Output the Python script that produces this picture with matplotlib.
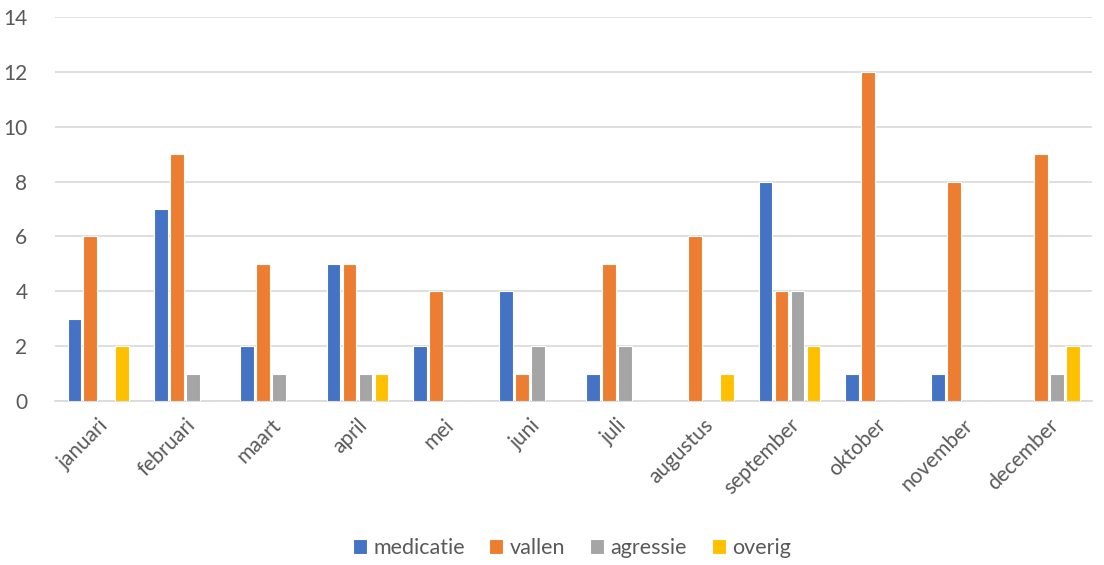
import numpy as np
import matplotlib
matplotlib.use('Agg')
import matplotlib.pyplot as plt

plt.rcParams['font.family'] = ['Lato', 'DejaVu Sans']

# Data
maanden = ['januari', 'februari', 'maart', 'april', 'mei', 'juni', 'juli',
           'augustus', 'september', 'oktober', 'november', 'december']
medicatie = [3, 7, 2, 5, 2, 4, 1, 0, 8, 1, 1, 0]
vallen = [6, 9, 5, 5, 4, 1, 5, 6, 4, 12, 8, 9]
agressie = [0, 1, 1, 1, 0, 2, 2, 0, 4, 0, 0, 1]
overig = [2, 0, 0, 1, 0, 0, 0, 1, 2, 0, 0, 2]

series = [('medicatie', medicatie, '#4472C4'),
          ('vallen', vallen, '#ED7D31'),
          ('agressie', agressie, '#A5A5A5'),
          ('overig', overig, '#FFC000')]

text_col = '#595959'

fig = plt.figure(figsize=(11.04, 5.65), dpi=100)
ax = fig.add_axes([0.050, 0.290, 0.939, 0.680])

x = np.arange(len(maanden))
pitch = 0.185
width = 0.16
for i, (name, vals, col) in enumerate(series):
    ax.bar(x + (i - 1.5) * pitch, vals, width, color=col, label=name,
           edgecolor='white', linewidth=0.8, zorder=3)

ax.set_xlim(-0.5, len(maanden) - 0.5)
ax.set_ylim(0, 14)
ax.set_yticks(range(0, 15, 2))
ax.yaxis.grid(True, color='#D9D9D9', linewidth=1.2, zorder=0)
ax.set_axisbelow(True)
for s in ['top', 'right', 'left']:
    ax.spines[s].set_visible(False)
ax.spines['bottom'].set_color('#D9D9D9')
ax.spines['bottom'].set_linewidth(1.2)
ax.tick_params(axis='both', length=0, colors=text_col, labelsize=15)
ax.tick_params(axis='y', pad=20)
ax.set_xticks(x)
ax.set_xticklabels(maanden, rotation=45, ha='right', rotation_mode='anchor')
ax.tick_params(axis='x', pad=10)

leg = fig.legend(loc='lower center', bbox_to_anchor=(0.518, -0.022), ncol=4,
                 frameon=False, fontsize=15.5, handlelength=0.65, handleheight=0.65,
                 columnspacing=1.15, handletextpad=0.3)
for t in leg.get_texts():
    t.set_color(text_col)

fig.savefig('out.png', dpi=100)
